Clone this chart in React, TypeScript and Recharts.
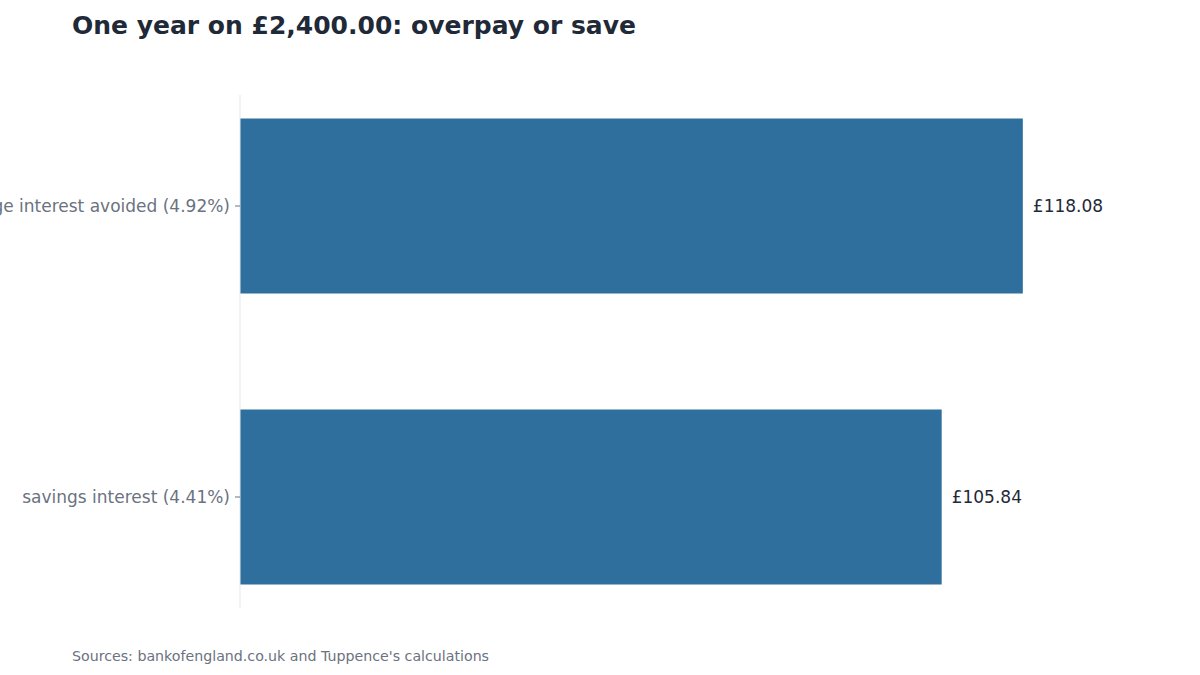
import { BarChart, Bar, XAxis, YAxis, LabelList } from 'recharts';

const categories = ['Mortgage interest avoided (4.92%)', 'savings interest (4.41%)'];
const values = [118.08, 105.84];

const data = categories.map((name, i) => ({ name, value: values[i] }));

const FONT = '"DejaVu Sans", sans-serif';

export default function App() {
  return (
    <div
      style={{
        position: 'fixed',
        left: 0,
        top: 0,
        width: 1200,
        height: 675,
        background: '#ffffff',
        fontFamily: FONT,
        overflow: 'hidden',
      }}
    >
      <div
        style={{
          position: 'absolute',
          left: 72,
          top: 11,
          fontSize: 25,
          fontWeight: 'bold',
          color: '#1f2937',
          whiteSpace: 'nowrap',
        }}
      >
        One year on £2,400.00: overpay or save
      </div>
      <BarChart
        width={1200}
        height={675}
        data={data}
        layout="vertical"
        margin={{ top: 95, right: 65, bottom: 67, left: 0 }}
      >
        <XAxis type="number" domain={[0, 135]} hide />
        <YAxis
          type="category"
          dataKey="name"
          width={240}
          interval={0}
          padding={{ top: -34.5, bottom: -34.5 }}
          axisLine={{ stroke: '#e5e7eb' }}
          tickLine={{ stroke: '#6b7280' }}
          tickSize={5}
          tickMargin={5}
          tick={{ fill: '#6b7280', fontSize: 17, fontFamily: FONT }}
        />
        <Bar dataKey="value" fill="#2e6f9e" barSize={175} isAnimationActive={false}>
          <LabelList
            dataKey="value"
            position="right"
            offset={10}
            formatter={(v: number) => `£${v.toFixed(2)}`}
            style={{ fill: '#1f2937', fontSize: 17, fontFamily: FONT }}
          />
        </Bar>
      </BarChart>
      <div
        style={{
          position: 'absolute',
          left: 72,
          top: 648,
          fontSize: 14.2,
          color: '#6b7280',
          whiteSpace: 'nowrap',
        }}
      >
        Sources: bankofengland.co.uk and Tuppence's calculations
      </div>
    </div>
  );
}
